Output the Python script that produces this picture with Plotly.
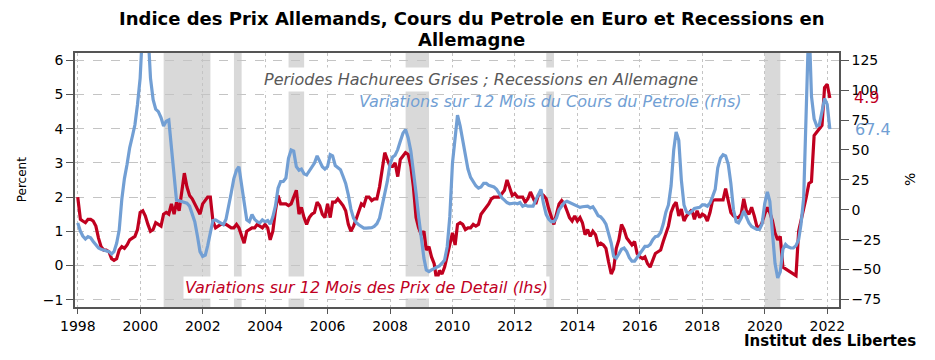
import pandas as pd
import plotly.graph_objects as go

# ---------------- data ----------------
# monthly observations, month-end dates Dec 1997 .. Jan 2022
n_obs = 290
dates = pd.date_range("1998-01-01", periods=n_obs, freq="MS") - pd.Timedelta(days=1)

# German consumer prices, 12-month change (%), left axis
cpi_yoy = [
    2.0, 1.35, 1.3, 1.25, 1.35, 1.35, 1.3, 1.15, 0.8, 0.55, 0.45, 0.45,
    0.4, 0.2, 0.15, 0.2, 0.45, 0.55, 0.5, 0.6, 0.75, 0.8, 0.85, 1.05,
    1.55, 1.6, 1.45, 1.2, 1.0, 1.05, 1.25, 1.2, 1.15, 1.5, 1.55, 1.5,
    1.8, 1.5, 1.85, 1.6, 2.1, 2.7, 2.3, 2.05, 1.95, 1.8, 1.6, 1.5,
    1.8, 1.9, 2.0, 2.0, 1.3, 1.1, 1.15, 1.2, 1.2, 1.2, 1.15, 1.1,
    1.1, 1.2, 1.1, 0.9, 0.65, 1.0, 1.05, 1.1, 1.1, 1.2, 1.15, 1.1,
    1.2, 1.1, 0.75, 1.0, 1.6, 2.05, 1.8, 1.8, 1.8, 1.75, 1.8, 2.0,
    2.2, 1.5, 1.7, 1.4, 1.2, 1.4, 1.5, 1.55, 1.85, 1.75, 1.5, 1.4,
    1.8, 1.4, 1.85, 1.85, 1.95, 1.85, 1.75, 1.6, 1.2, 1.0, 1.15, 1.35,
    1.6, 1.8, 1.75, 2.0, 2.0, 1.9, 1.95, 1.95, 2.3, 2.8, 3.3, 3.1,
    2.9, 2.9, 3.0, 2.6, 3.1, 3.2, 3.3, 3.25, 2.9, 2.3, 1.4, 1.1,
    0.9, 1.0, 0.45, 0.55, 0.25, 0.05, -0.45, -0.15, -0.25, -0.05, 0.3, 0.7,
    0.95, 0.6, 1.2, 1.25, 1.2, 1.05, 1.1, 1.1, 1.2, 1.15, 1.2, 1.5,
    1.6, 1.7, 1.8, 1.95, 2.0, 2.0, 2.0, 2.1, 2.2, 2.5, 2.3, 2.05,
    2.1, 2.0, 2.0, 2.0, 1.85, 1.95, 2.15, 2.0, 1.8, 2.05, 2.1, 2.05,
    1.95, 1.65, 1.45, 1.2, 1.5, 1.8, 1.9, 1.8, 1.6, 1.4, 1.3, 1.45,
    1.3, 1.4, 1.25, 0.9, 1.05, 0.85, 1.0, 0.9, 0.6, 0.65, 0.6, 0.5,
    0.1, -0.25, -0.1, 0.5, 0.75, 1.2, 1.05, 0.8, 0.7, 0.6, 0.7, 0.35,
    0.25, 0.2, 0.25, 0.05, -0.05, 0.15, 0.35, 0.4, 0.45, 0.7, 0.9, 1.15,
    1.55, 1.75, 1.85, 1.45, 1.65, 1.3, 1.45, 1.55, 1.63, 1.35, 1.6, 1.4,
    1.5, 1.45, 1.3, 1.55, 1.9, 1.92, 1.92, 1.9, 1.92, 2.25, 1.9, 1.55,
    1.45, 1.4, 1.4, 1.5, 1.95, 1.6, 1.5, 1.7, 1.45, 1.15, 1.1, 1.25,
    1.5, 1.7, 1.55, 1.3, 0.95, 0.75, 0.85, -0.05, -0.1, -0.15, -0.2, -0.25,
    -0.3, 1.0, 1.3, 1.7, 2.0, 2.4, 2.45, 3.8, 3.9, 4.0, 4.1, 5.2, 5.3, 4.9,
]

# Oil price in euro, 12-month change (%), right axis
oil_yoy = [
    -11, -18, -22, -24.5, -22.5, -23.5, -26.5, -29, -32, -33, -33.5, -34,
    -35, -37, -35, -28, -17, 9, 26, 38, 52, 61, 71, 88,
    110, 155, 180, 150, 110, 92, 84, 82, 77, 70, 74, 75,
    53, 33, 8, 7.5, 7, 6.5, 5.5, 3, -3, -10, -22, -35,
    -39, -38, -30, -20, -9, -8.5, -10, -11.5, -12.5, -8, 2, 14,
    26, 33, 36, 20, 3, -8.5, -10, -4, -8, -10, -11, -8.5,
    -10, -9, -12, -6, 3, 18, 23.5, 23.7, 26.5, 43, 50, 49,
    36, 33, 34, 30, 29, 32, 36, 39, 45, 40, 36, 34,
    36, 46, 45, 37, 35, 33.5, 28, 22, 12.5, 0.5, -7, -10.6,
    -12.6, -14, -15.4, -15.4, -15.4, -15, -14, -11.7, -7, 2.8, 14, 23.7,
    37.7, 44, 45.5, 50.3, 57.3, 64, 67, 60, 49, 33.5, 14, -5.6,
    -22.4, -40.5, -50.3, -51.7, -50.3, -49, -48, -47, -44.7, -42, -30.7, -5.6,
    39, 62, 79, 70, 57, 45, 34, 27, 23, 20, 18, 19,
    22, 22, 20.5, 20, 19, 17, 13, 10, 8, 6, 5, 5.5,
    5.6, 5, 6, 3, 4, 3, 3, 3, 8, 13, 17, 5,
    -4, -8, -10, -10, -7, 0, 3, 6, 7, 6, 5, 4,
    2.8, 2, 2.5, 3, 3, 1.5, 2.5, -1, -5, -6, -8.5, -12,
    -20, -28, -39, -40.5, -37, -33, -32, -35, -40, -43, -43, -40,
    -36, -33, -30.7, -30.7, -29, -25, -22.5, -22, -19, -12, -2, 4,
    20, 50, 65, 58, 25, 4, -2, -3, -1.4, 1, 1.4, 2,
    4, 4, 3, 5.6, 11, 17, 35, 43, 46, 45, 38, 22,
    0, -10, -11, -7, -1, -7, -11, -14, -15.5, -16.5, -16.5, -12,
    5, 15, 7, -22, -45, -57, -52, -33, -29, -31, -32, -32,
    -30, -25, -12, 10, 86, 160, 95, 76, 70, 71, 82, 93, 88, 67.4,
]

# German recessions (grey shaded periods)
recession_start = ["2000-10-01", "2003-01-01", "2004-10-01", "2008-07-01", "2013-01-01", "2020-01-01"]
recession_end = ["2002-04-01", "2003-04-01", "2005-04-01", "2009-04-01", "2013-04-01", "2020-07-01"]

left_ticks = [-1, 0, 1, 2, 3, 4, 5, 6]
right_ticks = [-75, -50, -25, 0, 25, 50, 75, 100, 125]
year_ticks = [f"{y}-01-01" for y in range(1998, 2023, 2)]
year_labels = [str(y) for y in range(1998, 2023, 2)]

title_line1 = "Indice des Prix Allemands, Cours du Petrole en Euro et Recessions en"
title_line2 = "Allemagne"

# ---------------- styling ----------------
RED = "#C0001F"
BLUE = "#729FD4"
FONT = "DejaVu Sans"

fig = go.Figure()

fig.add_trace(go.Scatter(
    x=dates, y=oil_yoy, yaxis="y2", mode="lines",
    line=dict(color=BLUE, width=3.2), name="Petrole", showlegend=False,
))
fig.add_trace(go.Scatter(
    x=dates, y=cpi_yoy, yaxis="y", mode="lines",
    line=dict(color=RED, width=3.2), name="Prix", showlegend=False,
))

for s, e in zip(recession_start, recession_end):
    fig.add_shape(type="rect", xref="x", yref="paper", x0=s, x1=e, y0=0, y1=1,
                  fillcolor="#D9D9D9", line=dict(width=0), layer="below")

annots = [
    dict(text=f"<b>{title_line1}</b>", xref="paper", yref="paper", x=0.5195, y=1.1339,
         xanchor="center", yanchor="middle", showarrow=False,
         font=dict(family=FONT, size=18, color="black")),
    dict(text=f"<b>{title_line2}</b>", xref="paper", yref="paper", x=0.5195, y=1.0551,
         xanchor="center", yanchor="middle", showarrow=False,
         font=dict(family=FONT, size=18, color="black")),
    dict(text="<i>Periodes Hachurees Grises ; Recessions en Allemagne</i>",
         xref="paper", yref="paper", x=0.531, y=0.894, xanchor="center", yanchor="middle",
         showarrow=False, font=dict(family=FONT, size=16, color="#595959"),
         bgcolor="white", borderpad=2),
    dict(text="<i>Variations sur 12 Mois du Cours du Petrole (rhs)</i>",
         xref="paper", yref="paper", x=0.623, y=0.808, xanchor="center", yanchor="middle",
         showarrow=False, font=dict(family=FONT, size=16, color=BLUE)),
    dict(text="<i>Variations sur 12 Mois des Prix de Detail (lhs)</i>",
         xref="paper", yref="paper", x=0.381, y=0.075, xanchor="center", yanchor="middle",
         showarrow=False, font=dict(family=FONT, size=16, color=RED),
         bgcolor="white", borderpad=1),
    dict(text=f"{cpi_yoy[-1]}", xref="paper", yref="y", x=1.017, y=cpi_yoy[-1],
         xanchor="left", yanchor="middle", showarrow=False,
         font=dict(family=FONT, size=16, color=RED)),
    dict(text=f"{oil_yoy[-1]}", xref="paper", yref="y2", x=1.018, y=oil_yoy[-1],
         xanchor="left", yanchor="middle", showarrow=False,
         font=dict(family=FONT, size=16, color=BLUE)),
    dict(text="Percent", xref="paper", yref="paper", x=-0.069, y=0.5, textangle=-90,
         xanchor="center", yanchor="middle", showarrow=False,
         font=dict(family=FONT, size=12, color="black")),
    dict(text="%", xref="paper", yref="paper", x=1.093, y=0.5, textangle=-90,
         xanchor="center", yanchor="middle", showarrow=False,
         font=dict(family=FONT, size=14, color="black")),
    dict(text="<b>Institut des Libertes</b>", xref="paper", yref="paper", x=1.103, y=-0.134,
         xanchor="right", yanchor="middle", showarrow=False,
         font=dict(family=FONT, size=15, color="black")),
]

# the page body adds an 8 px offset, so the figure is 8 px smaller than the window
fig.update_layout(
    width=927, height=352,
    margin=dict(l=67, r=96, t=45, b=53),
    paper_bgcolor="white", plot_bgcolor="white",
    font=dict(family=FONT, size=14, color="black"),
    annotations=annots,
    xaxis=dict(
        type="date", range=["1997-11-29", "2022-05-18"],
        tickvals=year_ticks, ticktext=year_labels,
        showgrid=True, gridcolor="#C4C4C4", griddash="dot", gridwidth=1,
        showline=True, linecolor="#555555", linewidth=1.5, mirror=True,
        ticks="outside", ticklen=5, tickcolor="#555555",
        tickfont=dict(family=FONT, size=14, color="black"), zeroline=False,
    ),
    yaxis=dict(
        range=[-1.216, 6.216], tickvals=left_ticks,
        showgrid=True, gridcolor="#C4C4C4", griddash="dash", gridwidth=1,
        showline=True, linecolor="#555555", linewidth=1.5,
        ticks="outside", ticklen=7, tickcolor="#555555",
        tickfont=dict(family=FONT, size=14, color="black"), zeroline=False,
    ),
    yaxis2=dict(
        overlaying="y", side="right", range=[-81.3, 131.0], tickvals=right_ticks,
        showgrid=False, showline=True, linecolor="#555555", linewidth=1.5,
        ticks="outside", ticklen=8, tickcolor="#555555",
        tickfont=dict(family=FONT, size=14, color="black"), zeroline=False,
    ),
)

fig.write_html("out.html")
